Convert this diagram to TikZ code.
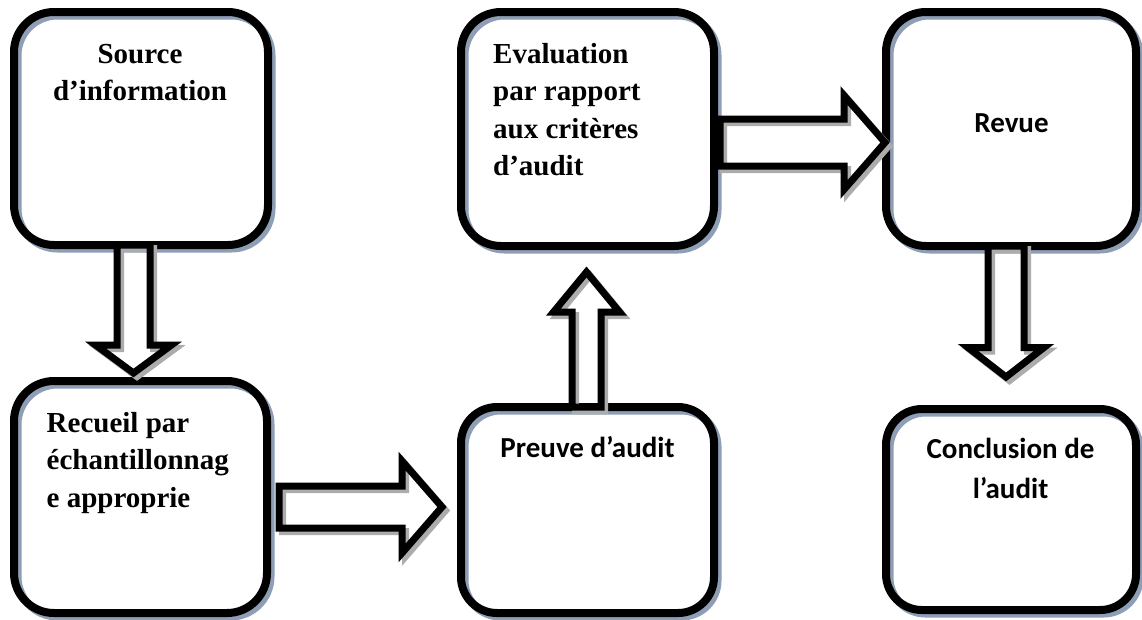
\documentclass[tikz,border=0pt]{standalone}
\usepackage{fontspec}
\setmainfont{Liberation Serif}
\newfontfamily\calibrifont{Carlito}
\usetikzlibrary{calc}

\definecolor{boxshade}{RGB}{141,158,181}
\definecolor{arrowshade}{RGB}{172,172,172}

\tikzset{
  stagebox/.style={rectangle, draw=black, line width=8pt, inner sep=0pt, outer sep=0pt,
    rounded corners=#1,
    preaction={draw=boxshade, line width=8pt, transform canvas={shift={(3.5pt,-3.5pt)}}}},
  stagebox/.default=40pt,
  blockarrow/.style={draw=black, line width=7pt, line join=miter,
    preaction={draw=arrowshade, line width=7pt, transform canvas={shift={(3.5pt,-3.5pt)}}}},
  serifline/.style={font=\fontsize{29}{35}\selectfont\bfseries, inner sep=0pt, anchor=base},
  sansline/.style={font=\calibrifont\fontsize{29}{35}\selectfont\bfseries, inner sep=0pt, anchor=base},
}

\begin{document}
\begin{tikzpicture}[x=1pt, y=-1pt]
  \fill[white] (0,0) rectangle (1142,619);
  \useasboundingbox (0,0) rectangle (1142,619);

  % stage boxes
  \node[stagebox, minimum width=254pt, minimum height=233pt] (b1) at (141,128.5) {};
  \node[stagebox, minimum width=253pt, minimum height=232pt] (b2) at (140.5,497) {};
  \node[stagebox=36pt, minimum width=253pt, minimum height=206pt] (b3) at (587.5,510) {};
  \node[stagebox, minimum width=253pt, minimum height=234pt] (b4) at (587.5,129) {};
  \node[stagebox, minimum width=250pt, minimum height=234pt] (b5) at (1011,129) {};
  \node[stagebox=36pt, minimum width=250pt, minimum height=201pt] (b6) at (1011,509.5) {};

  % box texts
  \node[serifline] (t1a) at (140,63) {Source};
  \node[serifline] (t1b) at (140,100) {d’information};

  \node[serifline, anchor=base west] (t2a) at (46.5,432) {Recueil par};
  \node[serifline, anchor=base west] (t2b) at (46.5,469.5) {échantillonnag};
  \node[serifline, anchor=base west] (t2c) at (46.5,507) {e approprie};

  \node[sansline] (t3a) at (587.5,457) {Preuve d’audit};

  \node[serifline, anchor=base west] (t4a) at (493,63) {Evaluation};
  \node[serifline, anchor=base west] (t4b) at (493,100.5) {par rapport};
  \node[serifline, anchor=base west] (t4c) at (493,138) {aux critères};
  \node[serifline, anchor=base west] (t4d) at (493,175.5) {d’audit};

  \node[sansline] (t5a) at (1011.5,132) {Revue};

  \node[sansline] (t6a) at (1010.5,458.5) {Conclusion de};
  \node[sansline] (t6b) at (1010.5,498.5) {l’audit};

  % arrow 1: Source -> Recueil (down)
  \coordinate (a1s) at ($(b1.south)+(-7.5,0)$);
  \coordinate (a1t) at ($(b2.north)+(-7,-8)$);
  \coordinate (a1h) at ($(a1t)+(0,-28)$);
  \draw[blockarrow] ($(a1s)+(-16.5,0)$) -- ($(a1h)+(-16.5,0)$) -- ($(a1h)+(-38,0)$)
    -- (a1t) -- ($(a1h)+(38,0)$) -- ($(a1h)+(16.5,0)$) -- ($(a1s)+(16.5,0)$) -- cycle;

  % arrow 2: Recueil -> Preuve (right)
  \coordinate (a2s) at ($(b2.east)+(12,10)$);
  \coordinate (a2t) at ($(b3.west)+(-19,-3)$);
  \coordinate (a2h) at ($(a2t)+(-40,0)$);
  \draw[blockarrow] ($(a2s)+(0,-21)$) -- ($(a2h)+(0,-21)$) -- ($(a2h)+(0,-46)$)
    -- (a2t) -- ($(a2h)+(0,46)$) -- ($(a2h)+(0,21)$) -- ($(a2s)+(0,21)$) -- cycle;

  % arrow 3: Preuve -> Evaluation (up)
  \coordinate (a3s) at ($(b3.north)+(-1,0)$);
  \coordinate (a3t) at ($(b4.south)+(-1,26)$);
  \coordinate (a3h) at ($(a3t)+(0,40)$);
  \draw[blockarrow] ($(a3s)+(-14.5,0)$) -- ($(a3h)+(-14.5,0)$) -- ($(a3h)+(-33,0)$)
    -- (a3t) -- ($(a3h)+(33,0)$) -- ($(a3h)+(14.5,0)$) -- ($(a3s)+(14.5,0)$) -- cycle;

  % arrow 4: Evaluation -> Revue (right)
  \coordinate (a4s) at ($(b4.east)+(6,13.5)$);
  \coordinate (a4t) at ($(b5.west)+(-1,13.5)$);
  \coordinate (a4h) at ($(a4t)+(-41,0)$);
  \draw[blockarrow] ($(a4s)+(0,-23.5)$) -- ($(a4h)+(0,-23.5)$) -- ($(a4h)+(0,-47)$)
    -- (a4t) -- ($(a4h)+(0,47)$) -- ($(a4h)+(0,23.5)$) -- ($(a4s)+(0,23.5)$) -- cycle;

  % arrow 5: Revue -> Conclusion (down)
  \coordinate (a5s) at ($(b5.south)+(-5,0)$);
  \coordinate (a5t) at ($(b6.north)+(-5,-32)$);
  \coordinate (a5h) at ($(a5t)+(0,-29.5)$);
  \draw[blockarrow] ($(a5s)+(-18,0)$) -- ($(a5h)+(-18,0)$) -- ($(a5h)+(-38,0)$)
    -- (a5t) -- ($(a5h)+(38,0)$) -- ($(a5h)+(18,0)$) -- ($(a5s)+(18,0)$) -- cycle;
\end{tikzpicture}
\end{document}
